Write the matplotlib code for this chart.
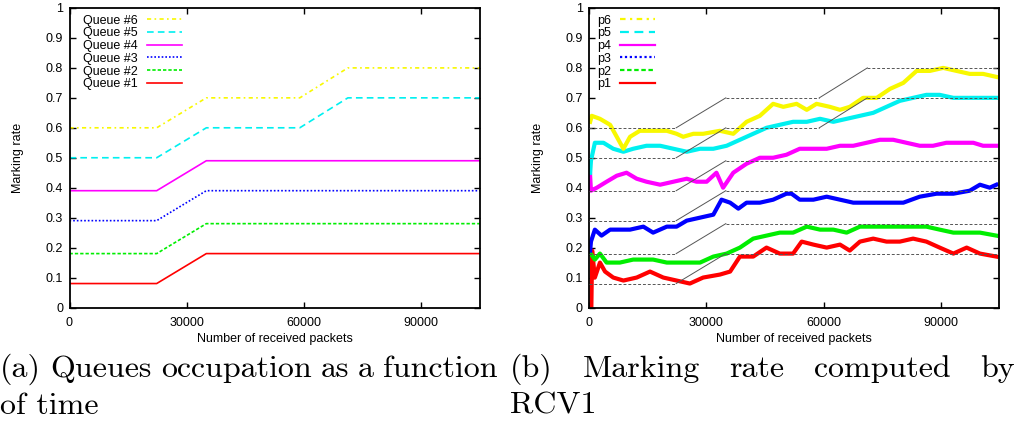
import matplotlib
matplotlib.use("Agg")
import matplotlib.pyplot as plt
from matplotlib.lines import Line2D

plt.rcParams["font.family"] = ["Liberation Sans", "DejaVu Sans"]
plt.rcParams["font.size"] = 9

W, H = 1016, 425

# queue occupation (left panel), also the reference lines of the right panel
queue_x = [0, 22300, 35000, 58900, 71200, 105000]
queue1 = [0.08, 0.08, 0.18, 0.18, 0.18, 0.18]
queue2 = [0.18, 0.18, 0.28, 0.28, 0.28, 0.28]
queue3 = [0.29, 0.29, 0.39, 0.39, 0.39, 0.39]
queue4 = [0.39, 0.39, 0.49, 0.49, 0.49, 0.49]
queue5 = [0.50, 0.50, 0.60, 0.60, 0.70, 0.70]
queue6 = [0.60, 0.60, 0.70, 0.70, 0.80, 0.80]

# marking rate computed by RCV1 (right panel)
p6_x = [300, 700, 2800, 5400, 7100, 8800, 10500, 13000, 16400, 19900, 22400, 24100,
        26700, 29200, 33500, 36900, 40300, 43700, 47100, 49700, 53100, 55700, 58200,
        61600, 64200, 66700, 70100, 73600, 77000, 80400, 83800, 87200, 90600, 94000,
        97400, 100800, 104200]
p6 = [0.62, 0.64, 0.63, 0.61, 0.57, 0.53, 0.57, 0.59, 0.59, 0.59, 0.58, 0.57,
      0.58, 0.58, 0.59, 0.58, 0.62, 0.64, 0.68, 0.67, 0.68, 0.66, 0.68,
      0.67, 0.66, 0.67, 0.70, 0.70, 0.73, 0.75, 0.79, 0.79, 0.80, 0.79,
      0.78, 0.78, 0.77]

p5_x = [300, 500, 1500, 3700, 6200, 8800, 11300, 14700, 18200, 21600, 25000, 28400,
        31800, 35200, 38600, 42000, 45400, 48800, 52200, 55700, 59100, 62500, 65900,
        69300, 72700, 76100, 79500, 82900, 86300, 89700, 93200, 96600, 100000, 104200]
p5 = [0.45, 0.49, 0.55, 0.55, 0.53, 0.52, 0.53, 0.54, 0.54, 0.53, 0.52, 0.53,
      0.53, 0.54, 0.56, 0.58, 0.60, 0.61, 0.62, 0.62, 0.63, 0.62, 0.63,
      0.64, 0.65, 0.67, 0.69, 0.70, 0.71, 0.71, 0.70, 0.70, 0.70, 0.70]

p4_x = [200, 500, 2000, 4500, 7100, 9600, 12200, 14700, 18200, 21600, 25000, 27500,
        30100, 32600, 34300, 36900, 40300, 43700, 47100, 50500, 53900, 57400, 60800,
        64200, 67600, 71000, 74400, 77800, 81200, 84600, 88000, 91400, 94900, 98300,
        100800, 104200]
p4 = [0.46, 0.39, 0.40, 0.42, 0.44, 0.45, 0.43, 0.42, 0.41, 0.42, 0.43, 0.42,
      0.42, 0.45, 0.40, 0.45, 0.48, 0.50, 0.50, 0.51, 0.53, 0.53, 0.53,
      0.54, 0.54, 0.55, 0.56, 0.56, 0.55, 0.54, 0.54, 0.55, 0.55, 0.55,
      0.54, 0.54]

p3_x = [300, 500, 1500, 3200, 5400, 7900, 10500, 13900, 16400, 19900, 22400, 25000,
        28400, 31800, 33900, 36100, 38200, 40300, 43700, 47100, 50500, 51800, 53900,
        57400, 60800, 64200, 67600, 72700, 76100, 80400, 84600, 88900, 93200, 97400,
        100000, 102500, 104200]
p3 = [0.19, 0.22, 0.26, 0.24, 0.26, 0.26, 0.26, 0.27, 0.25, 0.27, 0.27, 0.29,
      0.30, 0.31, 0.36, 0.35, 0.33, 0.35, 0.35, 0.36, 0.38, 0.38, 0.36,
      0.36, 0.37, 0.36, 0.35, 0.35, 0.35, 0.35, 0.37, 0.38, 0.38, 0.39,
      0.41, 0.40, 0.41]

p2_x = [400, 1500, 2800, 4500, 7900, 11300, 16400, 19900, 25000, 28400, 31800, 35200,
        38600, 42000, 45400, 48800, 52200, 55700, 59100, 62500, 65900, 69300, 72700,
        76100, 79500, 82900, 86300, 89700, 93200, 96600, 100000, 104200]
p2 = [0.18, 0.16, 0.18, 0.15, 0.15, 0.16, 0.16, 0.15, 0.15, 0.15, 0.17, 0.18,
      0.20, 0.23, 0.24, 0.25, 0.25, 0.27, 0.26, 0.26, 0.25, 0.27, 0.27,
      0.27, 0.27, 0.27, 0.27, 0.26, 0.25, 0.25, 0.25, 0.24]

p1_x = [600, 800, 1500, 2800, 4100, 6200, 8800, 12200, 15600, 19000, 22400, 25800,
        29200, 33500, 36100, 38600, 42000, 45400, 48800, 52200, 54400, 57400, 60800,
        64200, 66700, 69300, 72700, 76100, 79500, 82900, 86300, 89700, 93200, 96600,
        100000, 104200]
p1 = [0.0, 0.19, 0.10, 0.15, 0.12, 0.10, 0.09, 0.10, 0.12, 0.10, 0.09, 0.08,
      0.10, 0.11, 0.12, 0.17, 0.17, 0.20, 0.18, 0.18, 0.22, 0.21, 0.20,
      0.21, 0.19, 0.22, 0.23, 0.22, 0.22, 0.23, 0.22, 0.20, 0.18, 0.20,
      0.18, 0.17]

queues = [queue1, queue2, queue3, queue4, queue5, queue6]
rates = [(p1_x, p1), (p2_x, p2), (p3_x, p3), (p4_x, p4), (p5_x, p5), (p6_x, p6)]
queue_labels = ["Queue #1", "Queue #2", "Queue #3", "Queue #4", "Queue #5", "Queue #6"]
rate_labels = ["p1", "p2", "p3", "p4", "p5", "p6"]
x_ticks = [0, 30000, 60000, 90000]
y_ticks = [0, 0.1, 0.2, 0.3, 0.4, 0.5, 0.6, 0.7, 0.8, 0.9, 1]

colors = ["#ff0000", "#00ee00", "#0000ff", "#ff00ff", "#00f0f0", "#f8f800"]
dashes = [None, (2, 1.2), (1, 1.2), None, (4, 2.5), (2.5, 2, 1, 2)]


def style_axes(ax):
    ax.set_xlim(0, 105000)
    ax.set_ylim(0, 1)
    ax.set_xticks(x_ticks)
    ax.set_yticks(y_ticks)
    ax.set_yticklabels(["%g" % t for t in y_ticks])
    ax.tick_params(direction="in", length=4, width=1, top=True, right=True,
                   labelsize=9, colors="black")
    ax.tick_params(axis="x", pad=7)
    ax.tick_params(axis="y", pad=4.5)
    for s in ax.spines.values():
        s.set_linewidth(1.3)
    ax.set_xlabel("Number of received packets")
    ax.set_ylabel("Marking rate")
    ax.xaxis.set_label_coords(0.5, -0.085)
    ax.yaxis.set_label_coords(-0.11, 0.5)


def legend_handles(lw):
    hs = []
    for c, d in zip(colors, dashes):
        h = Line2D([], [], color=c, lw=lw)
        if d is not None:
            h.set_dashes(d)
        hs.append(h)
    return hs[::-1]


fig = plt.figure(figsize=(W / 100, H / 100), dpi=100)
ax1 = fig.add_axes([69.5 / W, 1 - 307.5 / H, 410.5 / W, 299.5 / H])
ax2 = fig.add_axes([589 / W, 1 - 307.5 / H, 410.5 / W, 299.5 / H])

# (a) queues occupation
for q, c, d in zip(queues, colors, dashes):
    line, = ax1.plot(queue_x, q, color=c, lw=1.2)
    if d is not None:
        line.set_dashes(d)
style_axes(ax1)
ax1.legend(legend_handles(1.2), queue_labels[::-1], loc="upper left",
           bbox_to_anchor=(0.033, 0.978), frameon=False, markerfirst=False,
           borderpad=0, borderaxespad=0, labelspacing=0.06,
           handlelength=2.8, handletextpad=0.7, fontsize=9)

# (b) marking rate with the queue targets in grey
for (xs, ys), c in zip(rates, colors):
    ax2.plot(xs, ys, color=c, lw=3, solid_joinstyle="round", zorder=2)
for q in queues:
    for i in range(len(queue_x) - 1):
        flat = q[i] == q[i + 1]
        ax2.plot(queue_x[i:i + 2], q[i:i + 2], color="#555555", lw=0.7,
                 ls=(0, (3, 2)) if flat else "-", zorder=3)
style_axes(ax2)
ax2.legend(legend_handles(1.6), rate_labels[::-1], loc="upper left",
           bbox_to_anchor=(0.02, 0.978), frameon=False, markerfirst=False,
           borderpad=0, borderaxespad=0, labelspacing=0.06,
           handlelength=2.8, handletextpad=0.7, fontsize=9)


def justified(words, x0, x1, y, size=23):
    texts = [fig.text(0, 1 - y / H, w, fontsize=size, family="cmr10",
                      va="baseline", ha="left") for w in words]
    r = fig.canvas.get_renderer()
    widths = [t.get_window_extent(r).width for t in texts]
    gap = (x1 - x0 - sum(widths)) / max(len(words) - 1, 1)
    x = x0
    for t, w in zip(texts, widths):
        t.set_x(x / W)
        x += w + gap


justified(["(a)", "Queues", "occupation", "as", "a", "function"], 0, 498, 377)
fig.text(0, 1 - 414 / H, "of time", fontsize=23, family="cmr10", va="baseline")
justified(["(b)", "Marking", "rate", "computed", "by"], 510, 1015, 377)
fig.text(510 / W, 1 - 414 / H, "RCV1", fontsize=23, family="cmr10", va="baseline")

fig.savefig("out.png", dpi=100)
